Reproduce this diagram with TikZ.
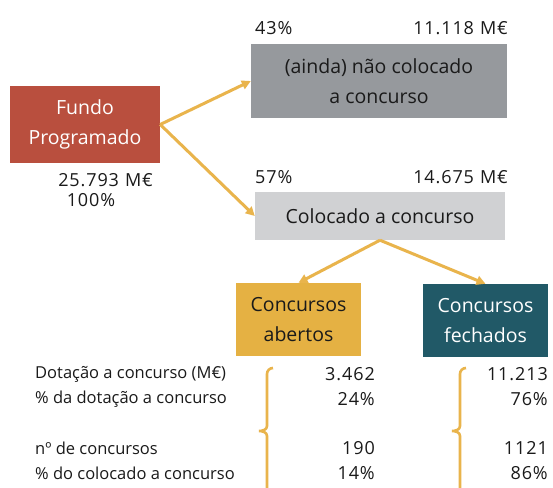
\documentclass[tikz,border=0pt]{standalone}
\usepackage{fontspec}
\setmainfont{Open Sans}
\newfontfamily\spacedfont[LetterSpace=5]{Open Sans}
\usetikzlibrary{arrows.meta}
\definecolor{fundoRed}{HTML}{B94F3E}
\definecolor{naoGray}{HTML}{96999D}
\definecolor{colGray}{HTML}{D0D1D3}
\definecolor{abertoGold}{HTML}{E5B143}
\definecolor{fechadoTeal}{HTML}{215967}
\definecolor{flowGold}{HTML}{E9B44C}
\definecolor{ink}{HTML}{1A1A1A}
\newcommand{\mgap}{\hspace{6pt}}
\tikzset{
  box/.style={inner sep=0pt, align=center, font=\fontsize{19.5}{30}\selectfont, text=ink},
  flow/.style={line width=3pt, flowGold, -{Triangle[length=9pt,width=9pt]}},
  brace/.style={line width=2.6pt, flowGold},
  lbl/.style={inner sep=0pt, font=\spacedfont\fontsize{18}{20}\selectfont, text=ink},
  row/.style={inner sep=0pt, anchor=west, font=\fontsize{16.5}{18}\selectfont, text=ink},
  val/.style={inner sep=0pt, anchor=east, font=\spacedfont\fontsize{18}{20}\selectfont, text=ink}
}
\begin{document}
\begin{tikzpicture}[x=1pt, y=-1pt]
\useasboundingbox[fill=white] (0,0) rectangle (553,487);
% boxes
\node[box, fill=fundoRed, minimum width=150pt, minimum height=77pt, text=white] (fundo) at (85,124.5) {Fundo\\Programado};
\node[box, fill=naoGray, minimum width=256pt, minimum height=74pt] (nao) at (379,81) {(ainda) não colocado\\a concurso};
\node[box, fill=colGray, minimum width=250pt, minimum height=48pt] (col) at (380,216) {Colocado a concurso};
\node[box, fill=abertoGold, minimum width=125pt, minimum height=73pt] (abertos) at (298.5,319.5) {Concursos\\abertos};
\node[box, fill=fechadoTeal, minimum width=125pt, minimum height=73pt, text=white] (fechados) at (485.5,320.5) {Concursos\\fechados};
% labels
\node[lbl, anchor=west] (naoPct) at (255,28) {43\%};
\node[lbl, anchor=east] (naoVal) at (508,28) {11.118\mgap M€};
\node[lbl, anchor=west] (colPct) at (255,177) {57\%};
\node[lbl, anchor=east] (colVal) at (508,177) {14.675\mgap M€};
\node[lbl, anchor=east] (fundoVal) at (153,180) {25.793\mgap M€};
\node[lbl] (fundoPct) at (91,200) {100\%};
% arrows
\draw[flow] (fundo.east) -- (nao.west);
\draw[flow] (fundo.east) -- (col.west);
\draw[flow] (col.south) -- (abertos.north);
\draw[flow] (col.south) -- (fechados.north);
% table
\node[row] (r1) at (35,374) {Dotação a concurso (M€)};
\node[row] (r2) at (35,399) {\% da dotação a concurso};
\node[row] (r3) at (35,448) {nº de concursos};
\node[row] (r4) at (35,473) {\% do colocado a concurso};
\node[val] (a1) at (375,374) {3.462};
\node[val] (a2) at (375,399) {24\%};
\node[val] (a3) at (375,448) {190};
\node[val] (a4) at (375,473) {14\%};
\node[val] (f1) at (548,374) {11.213};
\node[val] (f2) at (548,399) {76\%};
\node[val] (f3) at (548,448) {1121};
\node[val] (f4) at (548,473) {86\%};
% braces
\draw[brace] (273,368) to[out=180,in=90] (267,374) -- (267,426) to[out=-90,in=0] (259,431) to[out=0,in=90] (267,436) -- (267,495);
\draw[brace] (466,368) to[out=180,in=90] (460,374) -- (460,426) to[out=-90,in=0] (452,431) to[out=0,in=90] (460,436) -- (460,495);
\end{tikzpicture}
\end{document}
